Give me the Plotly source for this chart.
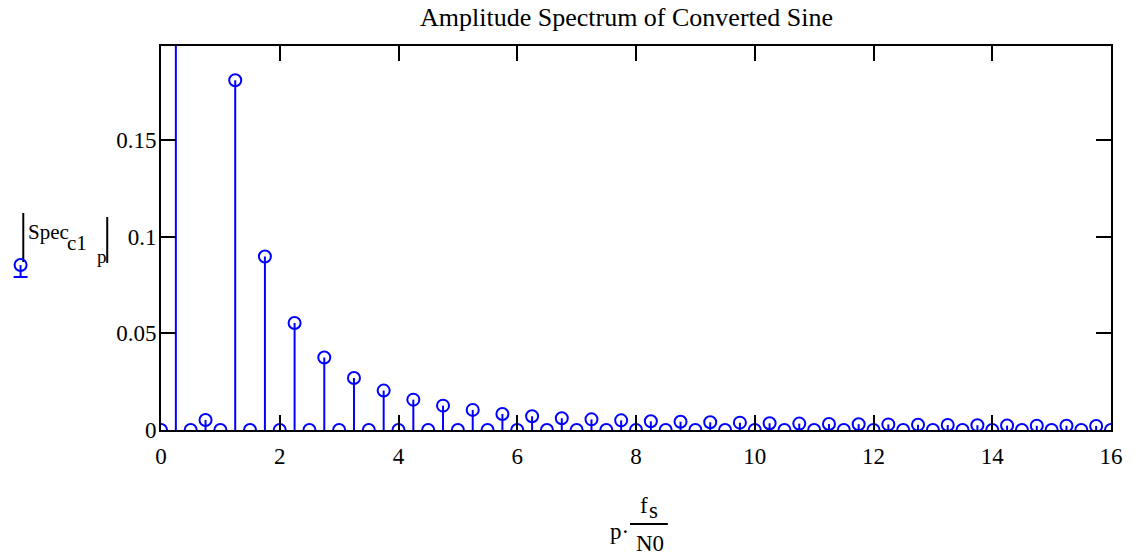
import plotly.graph_objects as go

# ---- data ----
p_index = list(range(65))
fs_over_N0 = 0.25
spec_mag = [
    0.0, 0.5, 0.0, 0.0052, 0.0, 0.181, 0.0, 0.0898, 0.0, 0.0554,
    0.0, 0.0375, 0.0, 0.0269, 0.0, 0.0204, 0.0, 0.0157, 0.0, 0.0126,
    0.0, 0.0104, 0.0, 0.0083, 0.0, 0.0071, 0.0, 0.0061, 0.0, 0.0055,
    0.0, 0.0050, 0.0, 0.0045, 0.0, 0.0043, 0.0, 0.0040, 0.0, 0.0038,
    0.0, 0.0035, 0.0, 0.0033, 0.0, 0.0031, 0.0, 0.0030, 0.0, 0.0029,
    0.0, 0.0027, 0.0, 0.0026, 0.0, 0.0025, 0.0, 0.0023, 0.0, 0.0022,
    0.0, 0.0022, 0.0, 0.0021, 0.0,
]
x_ticks = [0, 2, 4, 6, 8, 10, 12, 14, 16]
y_ticks = [0, 0.05, 0.1, 0.15]
y_ticktext = ["0", "0.05", "0.1", "0.15"]
title_text = "Amplitude Spectrum of Converted Sine"

freq = [p * fs_over_N0 for p in p_index]

BLUE = "#0000FF"
FONT = "Liberation Serif"

# stems
sx, sy = [], []
for xv, yv in zip(freq, spec_mag):
    sx += [xv, xv, None]
    sy += [0, yv, None]

fig = go.Figure()
fig.add_trace(go.Scatter(x=sx, y=sy, mode="lines",
                         line=dict(color=BLUE, width=2),
                         hoverinfo="skip", showlegend=False))
fig.add_trace(go.Scatter(x=freq, y=spec_mag, mode="markers",
                         marker=dict(symbol="circle-open", size=12,
                                     color=BLUE, line=dict(color=BLUE, width=2)),
                         showlegend=False, cliponaxis=True))

L, R, T, B = 161, 1115, 46, 430
W, H = 1135, 556
pw, ph = R - L, B - T


def px(xp):
    return (xp - L) / pw


def py(yp):
    return (B - yp) / ph


axis_common = dict(showline=True, linewidth=2, linecolor="black", mirror="ticks",
                   ticks="inside", ticklen=15, tickwidth=2, tickcolor="black",
                   showgrid=False, zeroline=False,
                   tickfont=dict(family=FONT, size=23, color="black"))

fig.update_layout(
    width=W, height=H,
    margin=dict(l=L, r=W - R, t=T, b=H - B, pad=0),
    paper_bgcolor="white", plot_bgcolor="white",
    xaxis=dict(range=[0, 16], tickvals=x_ticks, ticklabelstandoff=4, **axis_common),
    yaxis=dict(range=[0, 0.1987], tickvals=y_ticks, ticktext=y_ticktext,
               ticklabelstandoff=-2, **axis_common),
    font=dict(family=FONT, size=20, color="black"),
)


def txt(t, x, y, size, xa="left", ya="middle"):
    return dict(text=t, x=px(x), y=py(y), xref="paper", yref="paper",
                showarrow=False, xanchor=xa, yanchor=ya, borderpad=0,
                font=dict(family=FONT, size=size, color="black"))


ann = [
    txt(title_text, 628, 17, 26, xa="center"),
    # y label |Spec_c1_p|
    txt("Spec", 26, 232, 21),
    txt("c1", 66, 243, 21),
    txt("p", 96, 256, 19),
    # x label p·fs/N0
    txt("p·", 632, 531, 23, xa="right"),
    txt("f", 641, 505, 23),
    txt("s", 650, 510, 23),
    txt("N0", 652, 543, 23, xa="center"),
]
fig.update_layout(annotations=ann)

shapes = []
# abs bars
shapes.append(dict(type="line", xref="paper", yref="paper",
                   x0=px(22.7), x1=px(22.7), y0=py(213), y1=py(262),
                   line=dict(color="black", width=2)))
shapes.append(dict(type="line", xref="paper", yref="paper",
                   x0=px(107), x1=px(107), y0=py(217), y1=py(263),
                   line=dict(color="black", width=2)))
# fraction line
shapes.append(dict(type="line", xref="paper", yref="paper",
                   x0=px(632), x1=px(670), y0=py(524), y1=py(524),
                   line=dict(color="black", width=2)))
# legend glyph (marker symbol)
shapes.append(dict(type="circle", xref="paper", yref="paper",
                   x0=px(14), x1=px(26), y0=py(259), y1=py(271),
                   line=dict(color=BLUE, width=2)))
shapes.append(dict(type="line", xref="paper", yref="paper",
                   x0=px(20), x1=px(20), y0=py(265), y1=py(277),
                   line=dict(color=BLUE, width=2)))
shapes.append(dict(type="line", xref="paper", yref="paper",
                   x0=px(13), x1=px(27), y0=py(277), y1=py(277),
                   line=dict(color=BLUE, width=2)))
fig.update_layout(shapes=shapes)

fig.write_html("out.html", config={"displayModeBar": False},
               post_script="document.body.style.margin='0';document.body.style.padding='0';")
